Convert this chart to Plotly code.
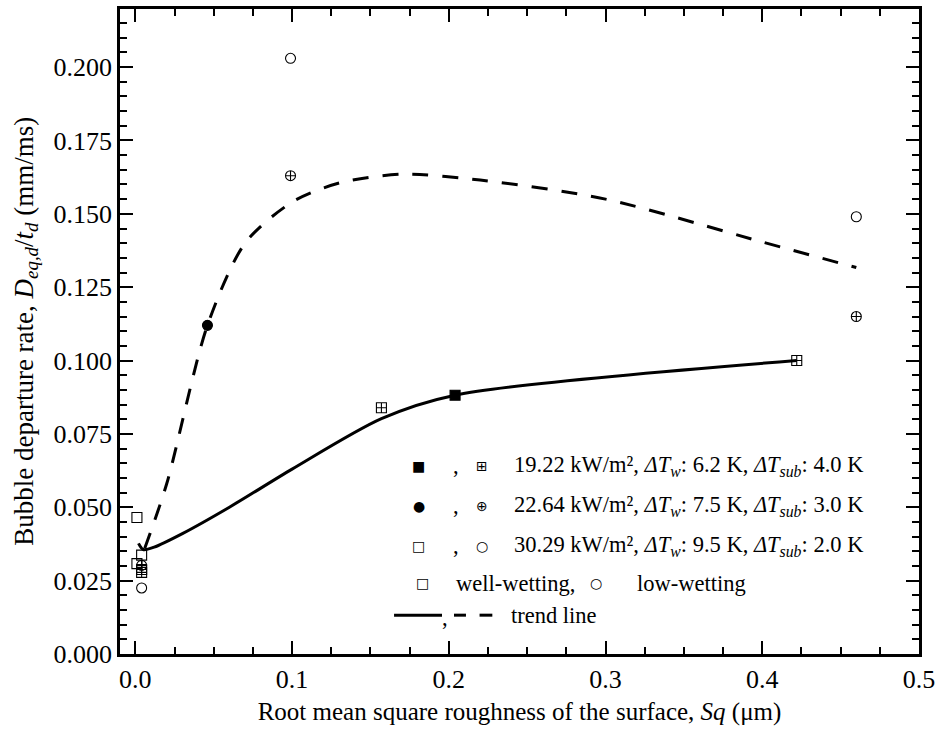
import plotly.graph_objects as go

# ---------------- data ----------------
# 19.22 kW/m2 series
a_fill_x = [0.204]
a_fill_y = [0.0882]
a_open_x = [0.157, 0.422, 0.004, 0.004]
a_open_y = [0.0839, 0.100, 0.0288, 0.0278]
# 22.64 kW/m2 series
b_fill_x = [0.046]
b_fill_y = [0.112]
b_open_x = [0.099, 0.460, 0.004]
b_open_y = [0.163, 0.115, 0.0302]
# 30.29 kW/m2 series
c_sq_x = [0.001, 0.004, 0.001]
c_sq_y = [0.0465, 0.0337, 0.0308]
c_circ_x = [0.099, 0.460, 0.004]
c_circ_y = [0.203, 0.149, 0.0225]
# trend lines
solid_x = [0.002, 0.005, 0.012, 0.03, 0.06, 0.10, 0.157, 0.204, 0.422]
solid_y = [0.0377, 0.0356, 0.0364, 0.041, 0.050, 0.0630, 0.0802, 0.0882, 0.100]
dash_x = [0.006, 0.02, 0.046, 0.07, 0.10, 0.13, 0.17, 0.22, 0.30, 0.40, 0.46]
dash_y = [0.036, 0.058, 0.112, 0.140, 0.1540, 0.1605, 0.1635, 0.1615, 0.155, 0.1404, 0.1317]

x_ticks = [0.0, 0.1, 0.2, 0.3, 0.4, 0.5]
y_ticks = [0.000, 0.025, 0.050, 0.075, 0.100, 0.125, 0.150, 0.175, 0.200]

FONT = "Liberation Serif, Times New Roman, DejaVu Serif, serif"
fig = go.Figure()

fig.add_trace(go.Scatter(x=solid_x, y=solid_y, mode="lines",
                         line=dict(color="black", width=3, shape="spline", smoothing=0.8)))
fig.add_trace(go.Scatter(x=dash_x, y=dash_y, mode="lines",
                         line=dict(color="black", width=3, shape="spline", smoothing=0.8,
                                   dash="16px,14px")))

def pts(x, y, symbol):
    fig.add_trace(go.Scatter(x=x, y=y, mode="markers",
                             marker=dict(symbol=symbol, size=10, color="black",
                                         line=dict(color="black", width=1.1))))

pts(a_fill_x, a_fill_y, "square")
pts(a_open_x, a_open_y, "square-cross-open")
pts(b_fill_x, b_fill_y, "circle")
pts(b_open_x, b_open_y, "circle-cross-open")
pts(c_sq_x, c_sq_y, "square-open")
pts(c_circ_x, c_circ_y, "circle-open")

axis_common = dict(showline=True, linewidth=2.5, linecolor="black", mirror="ticks",
                   ticks="inside", ticklen=13, tickwidth=2, tickcolor="black",
                   showgrid=False, zeroline=False,
                   tickfont=dict(family=FONT, size=26, color="black"))

fig.update_xaxes(range=[-0.0098, 0.5], tickvals=x_ticks, tickformat=".1f",
                 minor=dict(dtick=0.025, tick0=0, ticks="inside", ticklen=7, tickwidth=2,
                            tickcolor="black", showgrid=False),
                 title=dict(text="Root mean square roughness of the surface, <i>Sq</i> (μm)",
                            font=dict(family=FONT, size=25, color="black"), standoff=10),
                 **axis_common)
fig.update_yaxes(range=[0, 0.2198], tickvals=y_ticks, tickformat=".3f",
                 minor=dict(dtick=0.005, tick0=0, ticks="inside", ticklen=7, tickwidth=2,
                            tickcolor="black", showgrid=False),
                 **axis_common)

ann = []
# y-axis title (placed as a rotated annotation for exact position)
ann.append(dict(x=-0.1185, y=0.5, xref="paper", yref="paper", textangle=-90,
                text="Bubble departure rate, <i>D</i><sub><i>eq,d</i></sub>/<i>t</i><sub><i>d</i></sub> (mm/ms)",
                showarrow=False, xanchor="center", yanchor="middle",
                font=dict(family=FONT, size=27, color="black")))

# ---------------- custom legend ----------------
LS = 22.5
GS = 14
rows = [0.2917, 0.2299, 0.1682]
labels = [
    "19.22 kW/m², <i>ΔT</i><sub><i>w</i></sub>: 6.2 K, <i>ΔT</i><sub><i>sub</i></sub>: 4.0 K",
    "22.64 kW/m², <i>ΔT</i><sub><i>w</i></sub>: 7.5 K, <i>ΔT</i><sub><i>sub</i></sub>: 3.0 K",
    "30.29 kW/m², <i>ΔT</i><sub><i>w</i></sub>: 9.5 K, <i>ΔT</i><sub><i>sub</i></sub>: 2.0 K",
]
first = ["■", "●", "□"]
second = ["⊞", "⊕", "○"]
def text(x, y, t, size=LS, anchor="left", fam=FONT):
    ann.append(dict(x=x, y=y, xref="paper", yref="paper", text=t, showarrow=False,
                    xanchor=anchor, yanchor="middle",
                    font=dict(family=fam, size=size, color="black")))
for r, lab, f, s in zip(rows, labels, first, second):
    text(0.374, r, f, GS, "center", "DejaVu Sans")
    text(0.420, r, ",", LS, "center")
    text(0.4526, r, s, GS, "center", "DejaVu Sans")
    text(0.490, r, lab)
r4 = 0.1096
text(0.378, r4, "□", GS, "center", "DejaVu Sans")
text(0.4177, r4, "well-wetting,")
text(0.596, r4, "○", GS, "center", "DejaVu Sans")
text(0.6446, r4, "low-wetting")
r5 = 0.0602
text(0.407, r5 - 0.004, ",", LS, "center")
text(0.487, r5, "trend line")
shapes = [
    dict(type="line", xref="paper", yref="paper", x0=0.343, x1=0.403, y0=r5, y1=r5,
         line=dict(color="black", width=3)),
    dict(type="line", xref="paper", yref="paper", x0=0.418, x1=0.433, y0=r5, y1=r5,
         line=dict(color="black", width=3)),
    dict(type="line", xref="paper", yref="paper", x0=0.450, x1=0.466, y0=r5, y1=r5,
         line=dict(color="black", width=3)),
]

fig.update_layout(width=941, height=745, margin=dict(l=120, r=19, t=6, b=91),
                  plot_bgcolor="white", paper_bgcolor="white", showlegend=False,
                  font=dict(family=FONT, size=24, color="black"),
                  annotations=ann, shapes=shapes)

fig.write_html("out.html", config={"displayModeBar": False},
               post_script="document.body.style.margin='0';document.body.style.overflow='hidden';")
